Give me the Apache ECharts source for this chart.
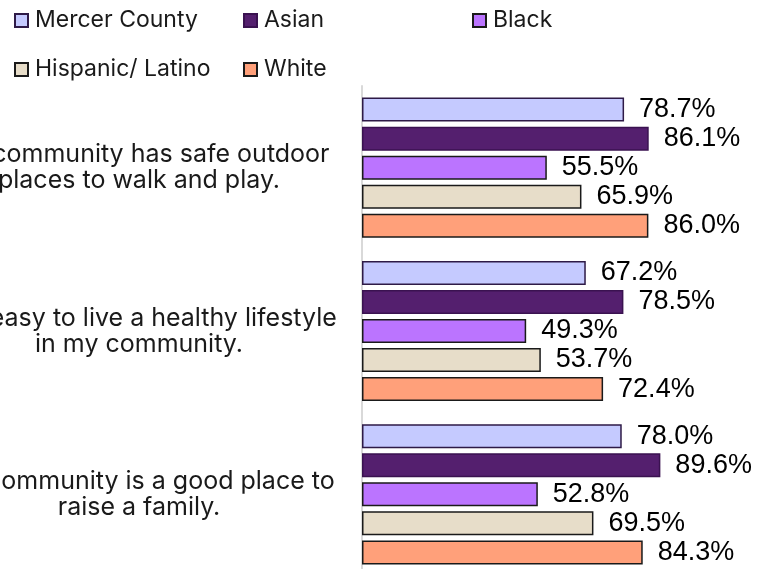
<!DOCTYPE html>
<html>
<head>
<meta charset="utf-8">
<script src="https://cdn.jsdelivr.net/npm/echarts@6/dist/echarts.min.js"></script>
<style>
  html, body { margin: 0; padding: 0; background: #ffffff; }
  #chart { width: 776px; height: 569px; }
</style>
</head>
<body>
<div id="chart"></div>
<script>
// Survey statements (one group of bars each)
const statements = [
  'My community has safe outdoor\nplaces to walk and play.',
  'It is easy to live a healthy lifestyle\nin my community.',
  'My community is a good place to\nraise a family.'
];

// Share agreeing (%), by group
const mercerCounty = [78.7, 67.2, 78.0];
const asian        = [86.1, 78.5, 89.6];
const black        = [55.5, 49.3, 52.8];
const hispanic     = [65.9, 53.7, 69.5];
const white        = [86.0, 72.4, 84.3];

const groupNames = ['Mercer County', 'Asian', 'Black', 'Hispanic/ Latino', 'White'];
const groupValues = [mercerCounty, asian, black, hispanic, white];
const fills   = ['#C5CAFF', '#541F6E', '#BB74FF', '#E7DDC9', '#FFA07A'];
const borders = ['#2E1A47', '#3A1250', '#1A1A1A', '#1A1A1A', '#1A1A1A'];

const chart = echarts.init(document.getElementById('chart'), null, { renderer: 'canvas' });

const legendFont = { fontFamily: 'Inter', fontSize: 23, color: '#1A1A1A', padding: [0, 0, 0, 2] };
const legendSpots = [
  { left: 14,  top: 9 },
  { left: 243, top: 9 },
  { left: 472, top: 9 },
  { left: 14,  top: 58 },
  { left: 243, top: 58 }
];

const legends = groupNames.map((name, i) => ({
  data: [name],
  left: legendSpots[i].left,
  top: legendSpots[i].top,
  icon: 'rect',
  itemWidth: 13,
  itemHeight: 13,
  padding: 0,
  textStyle: legendFont,
  selectedMode: false
}));

const series = groupNames.map((name, i) => ({
  name: name,
  type: 'bar',
  data: groupValues[i],
  barWidth: 24,
  barGap: '21%',
  itemStyle: { color: fills[i], borderColor: borders[i], borderWidth: 1.5 },
  label: {
    show: true,
    position: 'right',
    distance: 15,
    formatter: p => p.value.toFixed(1) + '%',
    fontFamily: 'Liberation Sans',
    fontSize: 27,
    color: '#000000'
  },
  animation: false
}));

chart.setOption({
  backgroundColor: '#ffffff',
  animation: false,
  legend: legends,
  grid: { left: 362, top: 86, width: 333, height: 490, containLabel: false, outerBoundsMode: 'none' },
  xAxis: {
    type: 'value',
    min: 0,
    max: 100,
    show: false
  },
  yAxis: {
    type: 'category',
    data: statements,
    inverse: true,
    axisLine: { show: true, lineStyle: { color: '#D9D9D9', width: 2 } },
    axisTick: { show: false },
    axisLabel: {
      align: 'center',
      margin: 223,
      fontFamily: 'Inter',
      fontSize: 25,
      lineHeight: 26,
      padding: [0, 0, 5, 0],
      color: '#1A1A1A'
    }
  },
  series: series
});
</script>
</body>
</html>
